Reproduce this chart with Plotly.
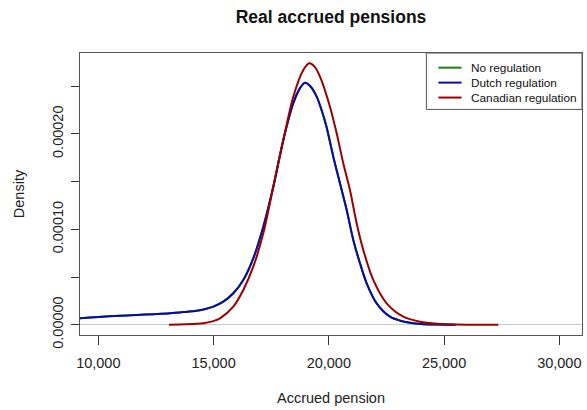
import plotly.graph_objects as go

# Kernel density estimates of real accrued pensions under three regimes
dutch_x = [8800, 9206, 10000, 10943, 11666, 12400, 13110, 13700, 14269, 14650, 14990,
           15423, 15857, 16290, 16724, 17158, 17592, 18026, 18460, 18750, 18967,
           19200, 19474, 19700, 19900, 20195, 20485, 20776, 21062, 21353, 21643,
           22077, 22654, 23100, 23522, 24000, 24600, 25500]
dutch_y = [5.8e-6, 6.7e-6, 8.0e-6, 9.5e-6, 1.02e-5, 1.1e-5, 1.19e-5, 1.32e-5, 1.47e-5,
           1.65e-5, 1.89e-5, 2.41e-5, 3.29e-5, 4.69e-5, 6.96e-5, 1.027e-4, 1.446e-4,
           1.936e-4, 2.321e-4, 2.48e-4, 2.537e-4, 2.50e-4, 2.39e-4, 2.24e-4, 2.075e-4,
           1.761e-4, 1.482e-4, 1.202e-4, 8.88e-5, 6.44e-5, 4.34e-5, 2.24e-5, 8.4e-6,
           4.2e-6, 2.1e-6, 8e-7, 2e-7, 0.0]

# No regulation coincides with the Dutch regulation outcome
noreg_x = list(dutch_x)
noreg_y = list(dutch_y)

canadian_x = [13067, 13800, 14555, 14950, 15280, 15857, 16290, 16724, 17158, 17592,
              18026, 18460, 18894, 19154, 19400, 19618, 20051, 20342, 20628, 20919,
              21208, 21496, 21929, 22511, 23231, 23955, 24700, 25500, 26400, 27354]
canadian_y = [0.0, 4e-7, 1.5e-6, 3.5e-6, 6.7e-6, 1.89e-5, 3.64e-5, 6.08e-5, 9.58e-5,
              1.446e-4, 1.936e-4, 2.39e-4, 2.67e-4, 2.74e-4, 2.70e-4, 2.60e-4, 2.285e-4,
              2.006e-4, 1.692e-4, 1.412e-4, 1.063e-4, 7.83e-5, 4.69e-5, 2.24e-5, 8.4e-6,
              3.1e-6, 9e-7, 2e-7, 0.0, 0.0]

series_names = ["No regulation", "Dutch regulation", "Canadian regulation"]
series_colors = ["#1a7f1a", "#0a0aa5", "#9b0000"]

y_tick_vals = [0, 5e-5, 1e-4, 1.5e-4, 2e-4, 2.5e-4]
y_tick_text = ["0.00000", "", "0.00010", "", "0.00020", ""]
x_tick_vals = [10000, 15000, 20000, 25000, 30000]
x_tick_text = ["10,000", "15,000", "20,000", "25,000", "30,000"]

fig = go.Figure()
for xs, ys, name, color in zip([noreg_x, dutch_x, canadian_x],
                               [noreg_y, dutch_y, canadian_y],
                               series_names, series_colors):
    fig.add_trace(go.Scatter(
        x=xs, y=ys, mode="lines", name=name,
        line=dict(color=color, width=2, shape="spline", smoothing=0.8),
        showlegend=False, hoverinfo="x+y+name",
    ))

font_family = "Liberation Sans, Arial, sans-serif"
axis_color = "#555555"

# Boxed legend in the top-right corner of the plotting region
shapes = [dict(type="rect", xref="paper", yref="paper",
               x0=0.69, x1=1.0, y0=0.80, y1=1.0,
               line=dict(color=axis_color, width=1), fillcolor="white", layer="above")]
annotations = []
row_ys = [0.948, 0.895, 0.842]
for name, color, ry in zip(series_names, series_colors, row_ys):
    shapes.append(dict(type="line", xref="paper", yref="paper",
                       x0=0.714, x1=0.760, y0=ry, y1=ry,
                       line=dict(color=color, width=2), layer="above"))
    annotations.append(dict(text=name, xref="paper", yref="paper",
                            x=0.774, y=ry, xanchor="left", yanchor="middle",
                            showarrow=False,
                            font=dict(size=11.8, color="#111111", family=font_family)))

fig.update_layout(
    width=587, height=410,
    margin=dict(l=80, r=5, t=53, b=75),
    paper_bgcolor="white", plot_bgcolor="white",
    font=dict(family=font_family, size=14, color="#222222"),
    title=dict(text="<b>Real accrued pensions</b>", x=331 / 587,
               xanchor="center", y=0.958, yanchor="middle",
               font=dict(size=17.5, color="#111111", family=font_family)),
    shapes=shapes,
    annotations=annotations,
    xaxis=dict(
        range=[9206, 30985], tickvals=x_tick_vals, ticktext=x_tick_text,
        showgrid=False, zeroline=False,
        showline=True, mirror=True, linecolor=axis_color, linewidth=1,
        ticks="outside", ticklen=9, tickcolor="#333333",
        ticklabelstandoff=6,
        tickfont=dict(size=14.5, color="#222222"),
        title=dict(text="Accrued pension", standoff=22,
                   font=dict(size=14.5, color="#222222")),
    ),
    yaxis=dict(
        range=[-1.08e-5, 2.848e-4], tickvals=y_tick_vals, ticktext=y_tick_text,
        tickangle=-90, showgrid=False,
        zeroline=True, zerolinecolor="#c8c8c8", zerolinewidth=1,
        showline=True, mirror=True, linecolor=axis_color, linewidth=1,
        ticks="outside", ticklen=8, tickcolor="#333333",
        ticklabelstandoff=2,
        tickfont=dict(size=14.5, color="#222222"),
        title=dict(text="Density", standoff=22,
                   font=dict(size=14.5, color="#222222")),
    ),
)

fig.write_html("out.html")
